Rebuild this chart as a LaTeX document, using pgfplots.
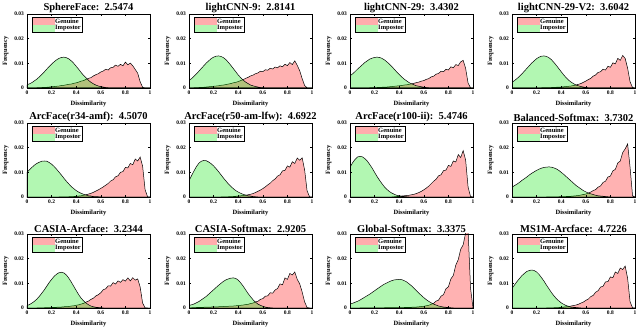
\documentclass[border=0pt]{standalone}
\usepackage{fontspec}
\setmainfont{Liberation Serif}
\usepackage{pgfplots}
\usepackage{pgfplotstable}
\pgfplotsset{compat=1.18}

\pgfplotsset{
 panel/.style={
  scale only axis, width=123pt, height=74pt, anchor=south west,
  xmin=0, xmax=1, ymin=0, ymax=30,
  xtick={0,0.2,0.4,0.6,0.8,1}, xticklabels={0,0.2,0.4,0.6,0.8,1},
  ytick={0,10,20,30}, yticklabels={0,0.01,0.02,0.03},
  /pgf/number format/assume math mode=true,
  tick align=inside, major tick length=2pt,
  tick style={black, line width=0.4pt},
  axis line style={line width=0.9pt},
  axis on top,
  tick label style={font=\fontsize{5.5}{6}\selectfont\bfseries},
  xticklabel style={yshift=0.5pt}, yticklabel style={xshift=0.5pt},
  label style={font=\fontsize{6.5}{7}\selectfont\bfseries},
  xlabel=Dissimilarity, ylabel=Frequency,
  xlabel style={yshift=0.5pt}, ylabel style={yshift=-1pt},
  every axis title shift=0pt,
  title style={font=\fontsize{10.5}{12}\selectfont\bfseries, yshift=-2.5pt},
  legend cell align=left,
  legend style={at={(0.04,0.955)}, anchor=north west, draw=black, line width=0.6pt,
    font=\fontsize{6.5}{7}\selectfont\bfseries, inner xsep=0.5pt, inner ysep=0.3pt,
    row sep=-1.6pt, nodes={inner sep=1pt}},
 },
 gen/.style={draw=black, line width=0.5pt, fill=red, fill opacity=0.3, draw opacity=1,
   legend image code/.code={\fill[red!32, fill opacity=1] (0pt,-3.2pt) rectangle (21pt,3.2pt);}},
 imp/.style={draw=black, line width=0.5pt, fill=green!90!black, fill opacity=0.3, draw opacity=1,
   legend image code/.code={\fill[green!90!black!30, fill opacity=1] (0pt,-3.2pt) rectangle (21pt,3.2pt);}},
}

% columns: x = dissimilarity, g = genuine, i = impostor (frequency in units of 0.001)
\pgfplotstableread[row sep=\\]{
x g i\\
0 0 1.3\\ 0.02 0 1.7\\ 0.04 0 2.2\\ 0.06 0.1 2.9\\ 0.08 0.1 3.6\\
0.1 0.2 4.5\\ 0.12 0.2 5.5\\ 0.14 0.3 6.5\\ 0.16 0.3 7.6\\ 0.18 0.4 8.7\\
0.2 0.5 9.7\\ 0.22 0.6 10.6\\ 0.24 0.7 11.4\\ 0.26 0.8 12.0\\ 0.28 1.0 12.4\\
0.3 1.1 12.5\\ 0.32 1.3 12.3\\ 0.34 1.5 11.8\\ 0.36 1.6 11.0\\ 0.38 1.9 10.0\\
0.4 2.1 8.8\\ 0.42 2.4 7.6\\ 0.44 2.8 6.3\\ 0.46 3.0 5.1\\ 0.48 3.5 4.1\\
0.5 3.9 3.1\\ 0.52 4.2 2.3\\ 0.54 4.9 1.7\\ 0.56 5.4 1.2\\ 0.58 5.8 0.8\\
0.6 6.5 0.55\\ 0.62 6.9 0.4\\ 0.64 7.6 0.2\\ 0.66 7.3 0.1\\ 0.68 8.2 0\\
0.7 8.4 0\\ 0.72 9.3 0\\ 0.74 8.8 0\\ 0.76 9.6 0\\ 0.78 9.0 0\\
0.8 10.5 0\\ 0.82 9.4 0\\ 0.84 10.1 0\\ 0.86 9.0 0\\ 0.88 7.5 0\\
0.9 6.0 0\\ 0.92 2.5 0\\ 0.94 0.3 0\\ 0.96 0 0\\ 0.98 0 0\\
1 0 0\\
}\tA
\pgfplotstableread[row sep=\\]{
x g i\\
0 0.1 3.0\\ 0.02 0.1 3.8\\ 0.04 0.1 4.7\\ 0.06 0.2 5.7\\ 0.08 0.2 6.8\\
0.1 0.3 7.9\\ 0.12 0.3 9.0\\ 0.14 0.4 10.1\\ 0.16 0.5 11.0\\ 0.18 0.6 11.9\\
0.2 0.7 12.5\\ 0.22 0.8 12.9\\ 0.24 0.9 13.0\\ 0.26 1.1 12.8\\ 0.28 1.2 12.3\\
0.3 1.4 11.5\\ 0.32 1.6 10.4\\ 0.34 1.8 9.2\\ 0.36 2.1 7.9\\ 0.38 2.3 6.6\\
0.4 2.6 5.3\\ 0.42 3.0 4.2\\ 0.44 3.4 3.2\\ 0.46 3.9 2.4\\ 0.48 4.3 1.8\\
0.5 4.9 1.2\\ 0.52 5.2 0.9\\ 0.54 5.8 0.6\\ 0.56 6.1 0.4\\ 0.58 6.8 0.2\\
0.6 6.6 0.1\\ 0.62 7.4 0\\ 0.64 7.2 0\\ 0.66 8.0 0\\ 0.68 7.7 0\\
0.7 8.5 0\\ 0.72 8.2 0\\ 0.74 9.0 0\\ 0.76 8.6 0\\ 0.78 9.6 0\\
0.8 9.1 0\\ 0.82 10.3 0\\ 0.84 9.5 0\\ 0.86 11.0 0\\ 0.88 9.2 0\\
0.9 7.0 0\\ 0.92 3.8 0\\ 0.94 1.0 0\\ 0.96 0.1 0\\ 0.98 0 0\\
1 0 0\\
}\tB
\pgfplotstableread[row sep=\\]{
x g i\\
0 0 4.9\\ 0.02 0 5.7\\ 0.04 0 6.6\\ 0.06 0 7.6\\ 0.08 0 8.5\\
0.1 0.1 9.4\\ 0.12 0.1 10.3\\ 0.14 0.1 11.0\\ 0.16 0.1 11.7\\ 0.18 0.2 12.1\\
0.2 0.2 12.4\\ 0.22 0.2 12.5\\ 0.24 0.3 12.4\\ 0.26 0.3 12.0\\ 0.28 0.4 11.4\\
0.3 0.4 10.6\\ 0.32 0.5 9.7\\ 0.34 0.6 8.7\\ 0.36 0.7 7.6\\ 0.38 0.8 6.5\\
0.4 0.9 5.5\\ 0.42 1.0 4.5\\ 0.44 1.2 3.6\\ 0.46 1.3 2.9\\ 0.48 1.5 2.2\\
0.5 1.7 1.7\\ 0.52 1.9 1.3\\ 0.54 2.2 0.9\\ 0.56 2.4 0.7\\ 0.58 2.8 0.5\\
0.6 3.0 0.3\\ 0.62 3.5 0.2\\ 0.64 3.8 0.1\\ 0.66 4.5 0\\ 0.68 4.8 0\\
0.7 5.6 0\\ 0.72 5.9 0\\ 0.74 6.8 0\\ 0.76 6.6 0\\ 0.78 7.6 0\\
0.8 7.3 0\\ 0.82 8.6 0\\ 0.84 8.2 0\\ 0.86 9.5 0\\ 0.88 9.1 0\\
0.9 10.6 0\\ 0.92 11.2 0\\ 0.94 8.0 0\\ 0.96 2.0 0\\ 0.98 0.1 0\\
1 0 0\\
}\tC
\pgfplotstableread[row sep=\\]{
x g i\\
0 0 2.3\\ 0.02 0 3.0\\ 0.04 0 3.8\\ 0.06 0 4.7\\ 0.08 0 5.7\\
0.1 0 6.8\\ 0.12 0.1 7.9\\ 0.14 0.1 9.0\\ 0.16 0.1 10.1\\ 0.18 0.1 11.0\\
0.2 0.1 11.9\\ 0.22 0.1 12.5\\ 0.24 0.1 12.9\\ 0.26 0.2 13.0\\ 0.28 0.2 12.8\\
0.3 0.2 12.3\\ 0.32 0.2 11.5\\ 0.34 0.3 10.4\\ 0.36 0.3 9.2\\ 0.38 0.4 7.9\\
0.4 0.4 6.6\\ 0.42 0.5 5.3\\ 0.44 0.6 4.2\\ 0.46 0.7 3.2\\ 0.48 0.8 2.4\\
0.5 1.0 1.8\\ 0.52 1.2 1.2\\ 0.54 1.5 0.9\\ 0.56 1.8 0.6\\ 0.58 2.3 0.4\\
0.6 2.8 0.2\\ 0.62 3.4 0.1\\ 0.64 3.9 0\\ 0.66 4.8 0\\ 0.68 5.3 0\\
0.7 6.3 0\\ 0.72 6.6 0\\ 0.74 7.6 0\\ 0.76 7.3 0\\ 0.78 8.8 0\\
0.8 8.4 0\\ 0.82 10.2 0\\ 0.84 9.8 0\\ 0.86 12.0 0\\ 0.88 11.2 0\\
0.9 13.2 0\\ 0.92 12.0 0\\ 0.94 8.0 0\\ 0.96 2.5 0\\ 0.98 0.2 0\\
1 0 0\\
}\tD
\pgfplotstableread[row sep=\\]{
x g i\\
0 0 10.0\\ 0.02 0 11.0\\ 0.04 0 12.0\\ 0.06 0 12.9\\ 0.08 0 13.6\\
0.1 0 14.1\\ 0.12 0 14.5\\ 0.14 0 14.6\\ 0.16 0 14.5\\ 0.18 0 14.0\\
0.2 0 13.3\\ 0.22 0 12.4\\ 0.24 0 11.3\\ 0.26 0 10.1\\ 0.28 0.1 8.9\\
0.3 0.1 7.6\\ 0.32 0.1 6.4\\ 0.34 0.1 5.3\\ 0.36 0.2 4.2\\ 0.38 0.2 3.4\\
0.4 0.3 2.6\\ 0.42 0.4 2.0\\ 0.44 0.5 1.5\\ 0.46 0.7 1.1\\ 0.48 0.9 0.8\\
0.5 1.2 0.5\\ 0.52 1.5 0.4\\ 0.54 1.9 0.2\\ 0.56 2.4 0.2\\ 0.58 2.9 0.1\\
0.6 3.5 0\\ 0.62 4.1 0\\ 0.64 4.8 0\\ 0.66 5.5 0\\ 0.68 6.5 0\\
0.7 7.0 0\\ 0.72 8.2 0\\ 0.74 8.6 0\\ 0.76 10.0 0\\ 0.78 10.3 0\\
0.8 12.0 0\\ 0.82 11.8 0\\ 0.84 13.6 0\\ 0.86 13.1 0\\ 0.88 15.4 0\\
0.9 14.6 0\\ 0.92 16.2 0\\ 0.94 12.5 0\\ 0.96 3.0 0\\ 0.98 0.1 0\\
1 0 0\\
}\tE
\pgfplotstableread[row sep=\\]{
x g i\\
0 0 6.5\\ 0.02 0 8.6\\ 0.04 0 10.5\\ 0.06 0 12.3\\ 0.08 0 13.7\\
0.1 0 14.5\\ 0.12 0 14.8\\ 0.14 0 14.7\\ 0.16 0 14.2\\ 0.18 0 13.5\\
0.2 0 12.6\\ 0.22 0 11.5\\ 0.24 0 10.3\\ 0.26 0 9.0\\ 0.28 0.1 7.7\\
0.3 0.1 6.5\\ 0.32 0.1 5.3\\ 0.34 0.2 4.3\\ 0.36 0.2 3.4\\ 0.38 0.3 2.6\\
0.4 0.4 2.0\\ 0.42 0.5 1.5\\ 0.44 0.6 1.1\\ 0.46 0.7 0.8\\ 0.48 0.9 0.5\\
0.5 1.1 0.4\\ 0.52 1.4 0.2\\ 0.54 1.8 0.1\\ 0.56 2.3 0\\ 0.58 2.8 0\\
0.6 3.4 0\\ 0.62 4.1 0\\ 0.64 4.9 0\\ 0.66 5.6 0\\ 0.68 6.6 0\\
0.7 7.3 0\\ 0.72 8.5 0\\ 0.74 9.0 0\\ 0.76 10.6 0\\ 0.78 10.8 0\\
0.8 12.6 0\\ 0.82 12.1 0\\ 0.84 14.3 0\\ 0.86 13.6 0\\ 0.88 15.8 0\\
0.9 14.9 0\\ 0.92 15.9 0\\ 0.94 11.0 0\\ 0.96 2.5 0\\ 0.98 0.1 0\\
1 0 0\\
}\tF
\pgfplotstableread[row sep=\\]{
x g i\\
0 0 12.0\\ 0.02 0 13.8\\ 0.04 0 15.2\\ 0.06 0 16.2\\ 0.08 0 16.5\\
0.1 0 16.3\\ 0.12 0 15.6\\ 0.14 0 14.6\\ 0.16 0 13.2\\ 0.18 0 11.7\\
0.2 0 10.0\\ 0.22 0 8.3\\ 0.24 0 6.8\\ 0.26 0 5.4\\ 0.28 0 4.1\\
0.3 0 3.1\\ 0.32 0 2.2\\ 0.34 0 1.6\\ 0.36 0.1 1.1\\ 0.38 0.2 0.7\\
0.4 0.3 0.5\\ 0.42 0.4 0.3\\ 0.44 0.5 0.2\\ 0.46 0.6 0.1\\ 0.48 0.7 0\\
0.5 0.9 0\\ 0.52 1.1 0\\ 0.54 1.4 0\\ 0.56 1.8 0\\ 0.58 2.3 0\\
0.6 2.9 0\\ 0.62 3.6 0\\ 0.64 4.4 0\\ 0.66 5.4 0\\ 0.68 6.4 0\\
0.7 7.2 0\\ 0.72 8.6 0\\ 0.74 9.0 0\\ 0.76 10.7 0\\ 0.78 10.9 0\\
0.8 12.8 0\\ 0.82 12.4 0\\ 0.84 14.6 0\\ 0.86 14.2 0\\ 0.88 17.2 0\\
0.9 16.0 0\\ 0.92 18.8 0\\ 0.94 15.0 0\\ 0.96 4.0 0\\ 0.98 0.2 0\\
1 0 0\\
}\tG
\pgfplotstableread[row sep=\\]{
x g i\\
0 0 4.0\\ 0.02 0 4.6\\ 0.04 0 5.2\\ 0.06 0 5.9\\ 0.08 0 6.7\\
0.1 0 7.4\\ 0.12 0 8.1\\ 0.14 0 8.9\\ 0.16 0 9.6\\ 0.18 0 10.2\\
0.2 0 10.8\\ 0.22 0 11.3\\ 0.24 0 11.7\\ 0.26 0 12.0\\ 0.28 0 12.1\\
0.3 0.1 12.2\\ 0.32 0.1 12.1\\ 0.34 0.1 11.8\\ 0.36 0.1 11.4\\ 0.38 0.1 10.8\\
0.4 0.2 10.0\\ 0.42 0.2 9.2\\ 0.44 0.2 8.3\\ 0.46 0.3 7.4\\ 0.48 0.3 6.5\\
0.5 0.4 5.6\\ 0.52 0.5 4.7\\ 0.54 0.6 4.0\\ 0.56 0.8 3.3\\ 0.58 1.0 2.6\\
0.6 1.2 2.1\\ 0.62 1.6 1.6\\ 0.64 2.0 1.3\\ 0.66 2.6 1.0\\ 0.68 3.0 0.7\\
0.7 4.0 0.5\\ 0.72 4.5 0.4\\ 0.74 5.9 0.3\\ 0.76 6.4 0.2\\ 0.78 8.1 0.1\\
0.8 8.5 0\\ 0.82 10.6 0\\ 0.84 11.2 0\\ 0.86 13.8 0\\ 0.88 14.6 0\\
0.9 18.0 0\\ 0.92 19.5 0\\ 0.94 21.5 0\\ 0.96 12.0 0\\ 0.98 0.5 0\\
1 0 0\\
}\tH
\pgfplotstableread[row sep=\\]{
x g i\\
0 0 1.0\\ 0.02 0 1.4\\ 0.04 0 2.0\\ 0.06 0 2.7\\ 0.08 0 3.6\\
0.1 0.1 4.7\\ 0.12 0.1 6.0\\ 0.14 0.1 7.3\\ 0.16 0.2 8.8\\ 0.18 0.2 10.3\\
0.2 0.2 11.6\\ 0.22 0.3 12.8\\ 0.24 0.3 13.7\\ 0.26 0.4 14.3\\ 0.28 0.4 14.5\\
0.3 0.5 14.2\\ 0.32 0.6 13.4\\ 0.34 0.6 12.1\\ 0.36 0.8 10.5\\ 0.38 0.9 8.8\\
0.4 1.1 7.1\\ 0.42 1.3 5.4\\ 0.44 1.6 4.0\\ 0.46 1.9 2.9\\ 0.48 2.4 2.0\\
0.5 2.8 1.3\\ 0.52 3.5 0.8\\ 0.54 4.0 0.5\\ 0.56 4.9 0.3\\ 0.58 5.4 0.2\\
0.6 6.2 0.1\\ 0.62 7.4 0\\ 0.64 7.8 0\\ 0.66 9.0 0\\ 0.68 8.9 0\\
0.7 10.3 0\\ 0.72 9.7 0\\ 0.74 11.0 0\\ 0.76 10.4 0\\ 0.78 11.5 0\\
0.8 10.9 0\\ 0.82 12.2 0\\ 0.84 11.0 0\\ 0.86 12.3 0\\ 0.88 11.3 0\\
0.9 11.8 0\\ 0.92 8.5 0\\ 0.94 2.0 0\\ 0.96 0.1 0\\ 0.98 0 0\\
1 0 0\\
}\tI
\pgfplotstableread[row sep=\\]{
x g i\\
0 0.1 1.0\\ 0.02 0.1 1.3\\ 0.04 0.2 1.6\\ 0.06 0.2 2.1\\ 0.08 0.3 2.6\\
0.1 0.3 3.3\\ 0.12 0.3 4.0\\ 0.14 0.4 4.7\\ 0.16 0.4 5.6\\ 0.18 0.4 6.5\\
0.2 0.5 7.4\\ 0.22 0.5 8.3\\ 0.24 0.5 9.2\\ 0.26 0.6 10.0\\ 0.28 0.6 10.8\\
0.3 0.7 11.4\\ 0.32 0.7 11.8\\ 0.34 0.8 12.1\\ 0.36 0.8 12.2\\ 0.38 0.9 12.0\\
0.4 1.0 11.3\\ 0.42 1.1 10.2\\ 0.44 1.2 8.9\\ 0.46 1.4 7.4\\ 0.48 1.5 5.9\\
0.5 1.8 4.6\\ 0.52 2.0 3.4\\ 0.54 2.5 2.4\\ 0.56 2.7 1.6\\ 0.58 3.5 1.1\\
0.6 3.8 0.7\\ 0.62 4.8 0.4\\ 0.64 4.9 0.2\\ 0.66 6.2 0.1\\ 0.68 6.0 0\\
0.7 7.3 0\\ 0.72 7.9 0\\ 0.74 9.8 0\\ 0.76 9.4 0\\ 0.78 12.2 0\\
0.8 11.6 0\\ 0.82 14.0 0\\ 0.84 13.4 0\\ 0.86 14.6 0\\ 0.88 11.6 0\\
0.9 9.8 0\\ 0.92 6.5 0\\ 0.94 2.5 0\\ 0.96 0.2 0\\ 0.98 0 0\\
1 0 0\\
}\tJ
\pgfplotstableread[row sep=\\]{
x g i\\
0 0 1.6\\ 0.02 0 1.9\\ 0.04 0 2.3\\ 0.06 0 2.7\\ 0.08 0 3.2\\
0.1 0.1 3.8\\ 0.12 0.1 4.4\\ 0.14 0.1 5.0\\ 0.16 0.1 5.6\\ 0.18 0.1 6.3\\
0.2 0.1 7.0\\ 0.22 0.1 7.7\\ 0.24 0.1 8.4\\ 0.26 0.1 9.1\\ 0.28 0.1 9.7\\
0.3 0.2 10.2\\ 0.32 0.1 10.7\\ 0.34 0.2 11.1\\ 0.36 0.2 11.4\\ 0.38 0.2 11.5\\
0.4 0.2 11.6\\ 0.42 0.2 11.5\\ 0.44 0.2 11.1\\ 0.46 0.3 10.6\\ 0.48 0.3 9.8\\
0.5 0.3 9.0\\ 0.52 0.4 8.0\\ 0.54 0.4 7.0\\ 0.56 0.5 6.0\\ 0.58 0.6 5.1\\
0.6 0.7 4.2\\ 0.62 0.9 3.4\\ 0.64 1.1 2.7\\ 0.66 1.5 2.1\\ 0.68 1.9 1.6\\
0.7 2.8 1.2\\ 0.72 3.2 0.8\\ 0.74 4.8 0.6\\ 0.76 5.4 0.4\\ 0.78 7.8 0.3\\
0.8 8.6 0.2\\ 0.82 11.8 0.1\\ 0.84 13.2 0\\ 0.86 17.4 0\\ 0.88 19.6 0\\
0.9 23.8 0\\ 0.92 25.6 0\\ 0.94 30.5 0\\ 0.96 31.5 0\\ 0.98 8.0 0\\
1 0 0\\
}\tK
\pgfplotstableread[row sep=\\]{
x g i\\
0 0 8.0\\ 0.02 0 9.3\\ 0.04 0 10.7\\ 0.06 0 11.9\\ 0.08 0 13.1\\
0.1 0 14.0\\ 0.12 0 14.8\\ 0.14 0 15.2\\ 0.16 0 15.4\\ 0.18 0 15.2\\
0.2 0 14.6\\ 0.22 0 13.6\\ 0.24 0 12.3\\ 0.26 0 10.9\\ 0.28 0 9.3\\
0.3 0.1 7.8\\ 0.32 0.1 6.3\\ 0.34 0.1 5.0\\ 0.36 0.2 3.8\\ 0.38 0.2 2.9\\
0.4 0.3 2.1\\ 0.42 0.4 1.5\\ 0.44 0.5 1.0\\ 0.46 0.6 0.7\\ 0.48 0.8 0.4\\
0.5 1.0 0.3\\ 0.52 1.2 0.2\\ 0.54 1.5 0.1\\ 0.56 2.0 0\\ 0.58 2.4 0\\
0.6 3.1 0\\ 0.62 3.6 0\\ 0.64 4.6 0\\ 0.66 5.1 0\\ 0.68 6.4 0\\
0.7 7.0 0\\ 0.72 8.5 0\\ 0.74 8.8 0\\ 0.76 10.6 0\\ 0.78 10.7 0\\
0.8 12.6 0\\ 0.82 12.3 0\\ 0.84 14.6 0\\ 0.86 14.0 0\\ 0.88 16.2 0\\
0.9 15.6 0\\ 0.92 17.0 0\\ 0.94 12.0 0\\ 0.96 2.5 0\\ 0.98 0.1 0\\
1 0 0\\
}\tL

\newcommand{\panel}[4]{%
\begin{axis}[panel, at={(#1pt,#2pt)}, title={#3}]
\addplot[gen] table[x=x,y=g]{#4} \closedcycle;
\addplot[imp] table[x=x,y=i]{#4} \closedcycle;
\legend{Genuine,Impostor}
\end{axis}}

\begin{document}
\begin{tikzpicture}
\useasboundingbox (0pt,0pt) rectangle (640pt,327pt);
\panel{27}{239}{SphereFace:\ \ 2.5474}{\tA}
\panel{189}{239}{lightCNN-9:\ \ 2.8141}{\tB}
\panel{350}{239}{lightCNN-29:\ \ 3.4302}{\tC}
\panel{512}{239}{lightCNN-29-V2:\ \ 3.6042}{\tD}
\panel{27}{130}{ArcFace(r34-amf):\ \ 4.5070}{\tE}
\panel{189}{130}{ArcFace(r50-am-lfw):\ \ 4.6922}{\tF}
\panel{350}{130}{ArcFace(r100-ii):\ \ 5.4746}{\tG}
\panel{512}{130}{Balanced-Softmax:\ \ 3.7302}{\tH}
\panel{27}{19}{CASIA-Arcface:\ \ 3.2344}{\tI}
\panel{189}{19}{CASIA-Softmax:\ \ 2.9205}{\tJ}
\panel{350}{19}{Global-Softmax:\ \ 3.3375}{\tK}
\panel{512}{19}{MS1M-Arcface:\ \ 4.7226}{\tL}
\end{tikzpicture}
\end{document}
